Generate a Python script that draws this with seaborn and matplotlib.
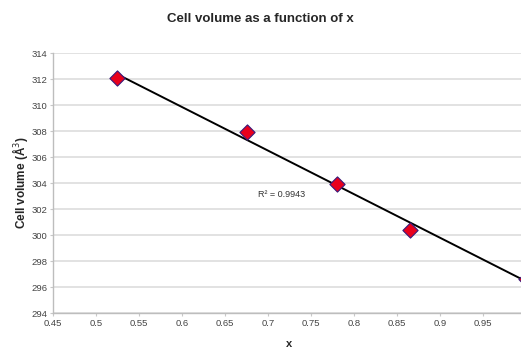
import matplotlib
matplotlib.use("Agg")
import matplotlib.pyplot as plt
import seaborn as sns
import pandas as pd

x_vals = [0.524, 0.676, 0.780, 0.865, 1.0]
volume = [312.1, 307.9, 303.9, 300.4, 296.6]
r2_text = "R² = 0.9943"
x_ticks = [0.45, 0.5, 0.55, 0.6, 0.65, 0.7, 0.75, 0.8, 0.85, 0.9, 0.95]
y_ticks = [294, 296, 298, 300, 302, 304, 306, 308, 310, 312, 314]

df = pd.DataFrame({"x": x_vals, "volume": volume})

sns.set_style("white")
plt.rcParams["font.family"] = ["Liberation Sans", "DejaVu Sans"]

fig = plt.figure(figsize=(5.21, 3.5), dpi=100)
ax = fig.add_axes([53 / 521, 1 - 313 / 350, 473 / 521, 260 / 350])
ax.set_xlim(0.45, 1.0)
ax.set_ylim(294, 314)
ax.set_yticks(y_ticks)
ax.set_xticks(x_ticks)
ax.set_xticklabels([f"{t:g}" for t in x_ticks])
ax.yaxis.grid(True, color="#dadada", linewidth=1.1)
ax.set_axisbelow(True)

sns.regplot(data=df, x="x", y="volume", ci=None, ax=ax,
            scatter=False, line_kws=dict(color="black", linewidth=1.4), truncate=True)
sns.scatterplot(data=df, x="x", y="volume", ax=ax, marker="D", s=60,
                color="#e8001c", edgecolor="#3a1a7a", linewidth=0.8, zorder=5, clip_on=True)

for side in ["top", "right"]:
    ax.spines[side].set_visible(False)
for side in ["left", "bottom"]:
    ax.spines[side].set_color("#bdbdbd")
    ax.spines[side].set_linewidth(1.0)
ax.tick_params(axis="both", labelsize=6.8, colors="#c8c8c8", length=2, width=0.8,
               labelcolor="#444444", direction="out", left=True, bottom=True, pad=2)

ax.set_xlabel("x", fontsize=8, fontweight="bold", labelpad=8)
ax.set_ylabel("Cell volume (Å$^3$)", fontsize=8.5, fontweight="bold", labelpad=1)
fig.text(0.5, 1 - 19 / 350, "Cell volume as a function of x", ha="center", va="center",
         fontsize=9.5, fontweight="bold")
ax.text(0.688, 303.1, r2_text, fontsize=6.5, color="#333333", va="center", ha="left")

fig.savefig("out.png", dpi=100)
